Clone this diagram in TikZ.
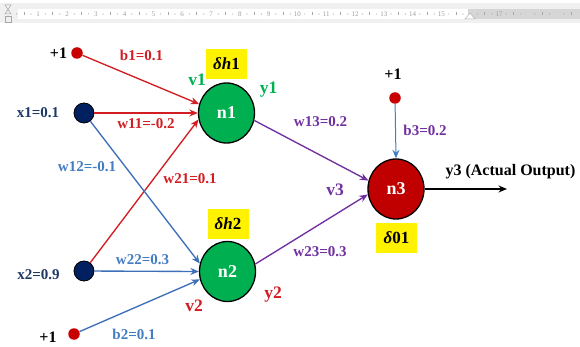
\documentclass[tikz,border=0pt]{standalone}
\usepackage{fontspec}
\setmainfont{Liberation Serif}
\usetikzlibrary{arrows.meta,shapes.geometric}
\definecolor{lred}{RGB}{210,30,35}
\definecolor{dotred}{RGB}{200,0,0}
\definecolor{cnavy}{RGB}{0,32,96}
\definecolor{tnavy}{RGB}{31,56,100}
\definecolor{lblue}{RGB}{62,112,185}
\definecolor{tblue}{RGB}{66,125,195}
\definecolor{cgreen}{RGB}{0,176,80}
\definecolor{cpurple}{RGB}{112,48,160}
\definecolor{dred}{RGB}{192,0,0}
\tikzset{
  lbl/.style={font=\bfseries\fontsize{15}{17}\selectfont, inner sep=0pt},
  vy/.style={font=\bfseries\fontsize{17.5}{19}\selectfont, inner sep=0pt},
  plusone/.style={font=\bfseries\fontsize{16}{18}\selectfont, inner sep=0pt},
  neuron/.style={ellipse, draw=black, line width=1.3pt, minimum width=56pt, minimum height=60pt, inner sep=0pt, text=white, font=\bfseries\fontsize{18}{20}\selectfont},
  deltabox/.style={fill=yellow, minimum width=41pt, minimum height=30pt, inner sep=0pt, font=\bfseries\fontsize{17}{19}\selectfont},
  biasdot/.style={circle, fill=dotred, minimum size=11.5pt, inner sep=0pt},
  inputdot/.style={circle, fill=cnavy, draw=black, line width=0.8pt, minimum size=20pt, inner sep=0pt},
  conn/.style={line width=1.35pt, -{Stealth[length=8.5pt,width=7pt]}},
  rulernum/.style={font=\fontsize{7}{8}\selectfont, text=gray!75, inner sep=0pt}
}
\begin{document}
\begin{tikzpicture}[x=1pt,y=-1pt]
\useasboundingbox (0,0) rectangle (580,347);
% ruler
\fill[gray!12] (0,3) rectangle (580,23);
\fill[white] (18,9) rectangle (468,19);
\fill[gray!32] (468,9) rectangle (580,19);
\foreach \n in {0,...,19} {
  \pgfmathsetmacro{\xa}{9.4+28.8*(\n+0.5)}
  \pgfmathsetmacro{\xb}{9.4+28.8*(\n+0.25)}
  \pgfmathsetmacro{\xc}{9.4+28.8*(\n+0.75)}
  \ifdim\xa pt<578pt \draw[gray!70, line width=0.5pt] (\xa,12.5) -- (\xa,15.5); \fi
  \ifdim\xb pt<578pt \fill[gray!70] (\xb,14) circle (0.6); \fi
  \ifdim\xc pt<578pt \fill[gray!70] (\xc,14) circle (0.6); \fi
}
\foreach \n in {1,...,15,17} \node[rulernum] at ({9.4+28.8*\n},14) {\n};
\draw[gray!70, line width=0.5pt] (5,5) -- (11,5) -- (8,9.5) -- cycle;
\draw[gray!70, line width=0.5pt] (5,14) -- (11,14) -- (8,9.5) -- cycle;
\draw[gray!70, line width=0.5pt] (5,16) rectangle (11,22);
\draw[gray!60, fill=white, line width=0.5pt] (465,19) -- (475,19) -- (470,13) -- cycle;

% nodes
\node[neuron, fill=cgreen] (n1) at (226.5,113) {n1};
\node[neuron, fill=cgreen] (n2) at (227.5,271.5) {n2};
\node[neuron, fill=dred] (n3) at (396,189) {n3};
\node[biasdot] (b1dot) at (77,53) {};
\node[biasdot] (b2dot) at (74,334) {};
\node[biasdot] (b3dot) at (395,98) {};
\node[inputdot] (x1) at (84,113) {};
\node[inputdot] (x2) at (84,271) {};
\coordinate (out) at (507,189);

\node[deltabox] (d1) at (226.5,64) {\textit{δh}1};
\node[deltabox] (d2) at (228,224) {\textit{δh}2};
\node[deltabox] (d3) at (396.5,237.5) {\textit{δ}01};

% connectors
\draw[conn, lred] (b1dot) -- (n1.162);
\draw[conn, lred] (x1) -- (n1.180);
\draw[conn, lred] (x2) -- (n1.193);
\draw[conn, lblue] (x1) -- (n2.164);
\draw[conn, lblue] (x2) -- (n2.180);
\draw[conn, lblue] (b2dot) -- (n2.196);
\draw[conn, cpurple] (n1.-15) -- (n3.163);
\draw[conn, cpurple] (n2.15) -- (n3.191);
\draw[conn, line width=1pt, tblue] (b3dot) -- (n3.90);
\draw[conn, black] (n3.east) -- (out);

% labels
\node[plusone] (p1) at (58.5,53) {+1};
\node[plusone] (p2) at (48,337) {+1};
\node[plusone] (p3) at (393,74) {+1};
\node[lbl, text=tnavy] (lx1) at (38,113) {x1=0.1};
\node[lbl, text=tnavy] (lx2) at (38.5,275) {x2=0.9};
\node[lbl, text=lred] (lb1) at (141.5,55) {b1=0.1};
\node[lbl, text=lred] (lw11) at (146,124) {w11=-0.2};
\node[lbl, text=tblue] (lw12) at (87,167) {w12=-0.1};
\node[lbl, text=lred] (lw21) at (190,179) {w21=0.1};
\node[lbl, text=tblue] (lw22) at (142.5,260) {w22=0.3};
\node[lbl, text=tblue] (lb2) at (134,334) {b2=0.1};
\node[lbl, text=cpurple] (lw13) at (320.5,122) {w13=0.2};
\node[lbl, text=cpurple] (lw23) at (320,252) {w23=0.3};
\node[lbl, text=cpurple] (lb3) at (425,130) {b3=0.2};
\node[vy, text=cgreen] (lv1) at (197,80) {v1};
\node[vy, text=cgreen] (ly1) at (268.5,90) {y1};
\node[vy, text=lred] (lv2) at (194,306) {v2};
\node[vy, text=lred] (ly2) at (273,295) {y2};
\node[vy, text=cpurple] (lv3) at (335,190) {v3};
\node[font=\bfseries\fontsize{16}{18}\selectfont, inner sep=0pt] (ly3) at (510.5,172) {y3 (Actual Output)};
\end{tikzpicture}
\end{document}
